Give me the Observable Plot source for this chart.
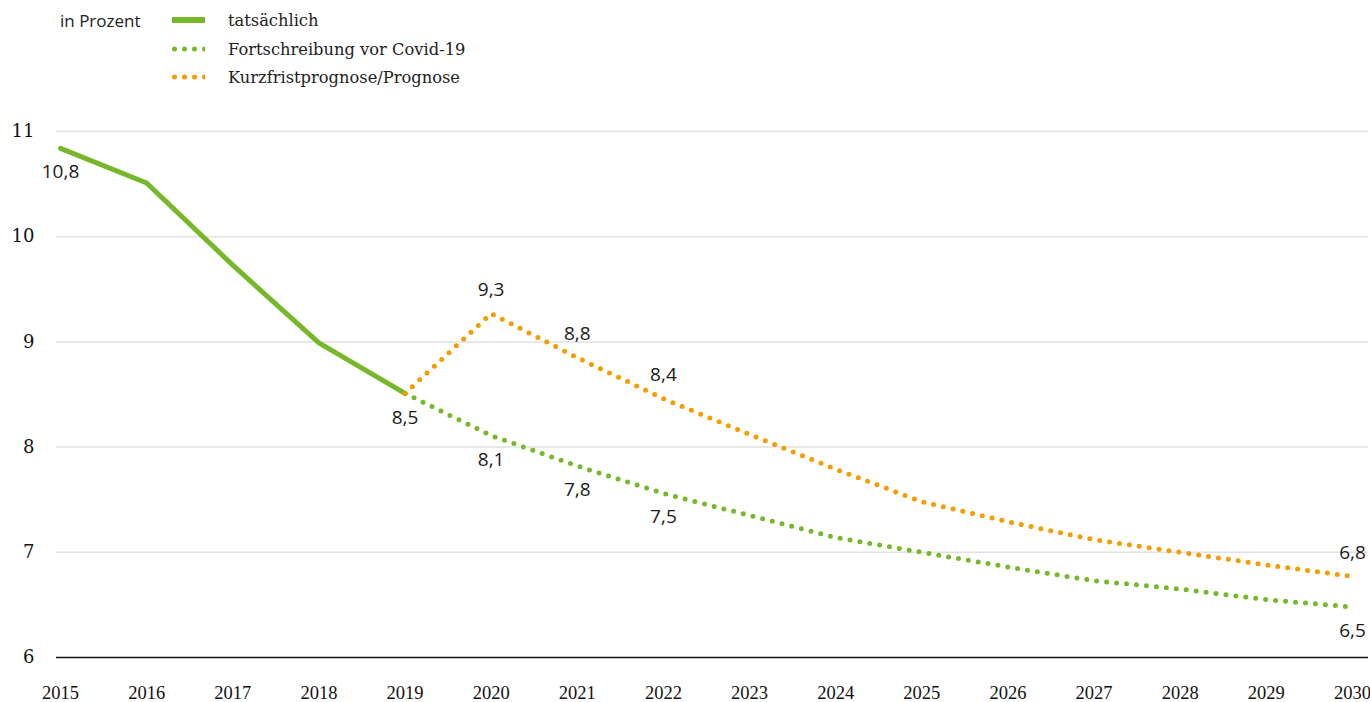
<!DOCTYPE html>
<html>
<head>
<meta charset="utf-8">
<script src="https://cdn.jsdelivr.net/npm/d3@7"></script>
<script src="https://cdn.jsdelivr.net/npm/@observablehq/plot@0.6"></script>
<style>
  html, body { margin: 0; padding: 0; background: #fff; }
  #wrap { position: relative; width: 1370px; height: 702px; overflow: hidden; }
  #legend { position: absolute; left: 0; top: 0; width: 600px; height: 100px; }
  #unit { position: absolute; left: 60px; top: 9px; font-family: "Open Sans", sans-serif; font-size: 17px; color: #222; }
  .row { position: absolute; left: 172px; height: 20px; display: flex; align-items: center; }
  .row span { font-family: "DejaVu Serif", serif; font-size: 16.3px; color: #222; margin-left: 23px; }
  #chart { position: absolute; left: 0; top: 100px; }
</style>
</head>
<body>
<div id="wrap">
  <div id="legend"></div>
  <div id="chart"></div>
</div>
<script>
// ---- data ----
const years = [2015, 2016, 2017, 2018, 2019, 2020, 2021, 2022, 2023, 2024, 2025, 2026, 2027, 2028, 2029, 2030];
const yTicks = [6, 7, 8, 9, 10, 11];
const seriesNames = ["tatsächlich", "Fortschreibung vor Covid-19", "Kurzfristprognose/Prognose"];
const unitLabel = "in Prozent";

const actualYears = [2015, 2016, 2017, 2018, 2019];
const actualValues = [10.84, 10.51, 9.73, 8.99, 8.51];

const trendYears = [2019, 2020, 2021, 2022, 2023, 2024, 2025, 2026, 2027, 2028, 2029, 2030];
const trendValues = [8.51, 8.11, 7.82, 7.56, 7.35, 7.14, 7.0, 6.86, 6.73, 6.65, 6.55, 6.48];

const forecastYears = [2019, 2020, 2021, 2022, 2023, 2024, 2025, 2026, 2027, 2028, 2029, 2030];
const forecastValues = [8.51, 9.27, 8.85, 8.46, 8.12, 7.79, 7.48, 7.29, 7.12, 7.0, 6.88, 6.77];

const actualLabelYears = [2015, 2019];
const actualLabelTexts = ["10,8", "8,5"];
const trendLabelYears = [2020, 2021, 2022, 2030];
const trendLabelTexts = ["8,1", "7,8", "7,5", "6,5"];
const forecastLabelYears = [2020, 2021, 2022, 2030];
const forecastLabelTexts = ["9,3", "8,8", "8,4", "6,8"];

// ---- styles ----
const GREEN = "#76b82a";
const ORANGE = "#f59c00";
const GRID = "#e1e1e1";

// ---- build tables ----
const toRows = (xs, vs) => xs.map((x, i) => ({year: x, value: vs[i]}));
const actual = toRows(actualYears, actualValues);
const trend = toRows(trendYears, trendValues);
const forecast = toRows(forecastYears, forecastValues);
const labelRows = (ys, ts, src) => ys.map((y, i) => ({year: y, value: src.find(d => d.year === y).value, text: ts[i]}));
const actualLabels = labelRows(actualLabelYears, actualLabelTexts, actual);
const trendLabels = labelRows(trendLabelYears, trendLabelTexts, trend);
const forecastLabels = labelRows(forecastLabelYears, forecastLabelTexts, forecast);

// ---- legend ----
const legend = document.getElementById("legend");
const unit = document.createElement("div");
unit.id = "unit";
unit.textContent = unitLabel;
legend.appendChild(unit);
const swatches = [
  {color: GREEN, dotted: false},
  {color: GREEN, dotted: true},
  {color: ORANGE, dotted: true}
];
const rowTops = [10, 39, 67];
seriesNames.forEach((name, i) => {
  const row = document.createElement("div");
  row.className = "row";
  row.style.top = rowTops[i] + "px";
  const sw = swatches[i];
  const svgNS = "http://www.w3.org/2000/svg";
  const s = document.createElementNS(svgNS, "svg");
  s.setAttribute("width", 33); s.setAttribute("height", 20);
  const l = document.createElementNS(svgNS, "line");
  if (sw.dotted) {
    l.setAttribute("x1", 2.5); l.setAttribute("x2", 33);
    l.setAttribute("stroke-width", 5);
    l.setAttribute("stroke-dasharray", "0 10");
    l.setAttribute("stroke-linecap", "round");
  } else {
    l.setAttribute("x1", 0); l.setAttribute("x2", 33);
    l.setAttribute("stroke-width", 6);
  }
  l.setAttribute("y1", 10); l.setAttribute("y2", 10);
  l.setAttribute("stroke", sw.color);
  s.appendChild(l);
  row.appendChild(s);
  const t = document.createElement("span");
  t.textContent = name;
  row.appendChild(t);
  legend.appendChild(row);
});

// ---- chart ----
const labelFont = {fontFamily: "'Open Sans', sans-serif", fontSize: 19, fill: "#1a1a1a"};
const chart = Plot.plot({
  width: 1370,
  height: 602,
  marginLeft: 56,
  marginRight: 2,
  marginTop: 0,
  marginBottom: 45,
  x: {domain: [2015, 2030], range: [60, 1352]},
  y: {domain: [6, 11], range: [557, 31]},
  style: {background: "#fff", overflow: "visible"},
  marks: [
    Plot.ruleY(yTicks.filter(d => d > 6), {stroke: GRID, strokeWidth: 1.5}),
    Plot.ruleY([6], {stroke: "#111", strokeWidth: 1.6}),
    Plot.axisX({ticks: years, tickFormat: d => String(d), tickSize: 0, tickPadding: 28,
      fontSize: 18.5, fontFamily: "'Liberation Serif', serif", fill: "#111", label: null}),
    Plot.axisY({ticks: yTicks, tickFormat: d => String(d), tickSize: 0, tickPadding: 22,
      fontSize: 18, fontFamily: "'DejaVu Serif', serif", fill: "#111", label: null}),
    Plot.line(actual, {x: "year", y: "value", stroke: GREEN, strokeWidth: 5, strokeLinejoin: "round"}),
    Plot.line(trend, {x: "year", y: "value", stroke: GREEN, strokeWidth: 5,
      strokeDasharray: "0 10", strokeLinecap: "round"}),
    Plot.line(forecast, {x: "year", y: "value", stroke: ORANGE, strokeWidth: 5,
      strokeDasharray: "0 10", strokeLinecap: "round"}),
    Plot.text(actualLabels, {x: "year", y: "value", text: "text", dy: 24, ...labelFont}),
    Plot.text(trendLabels, {x: "year", y: "value", text: "text", dy: 24, ...labelFont}),
    Plot.text(forecastLabels, {x: "year", y: "value", text: "text", dy: -24, ...labelFont})
  ]
});
document.getElementById("chart").appendChild(chart);
</script>
</body>
</html>
